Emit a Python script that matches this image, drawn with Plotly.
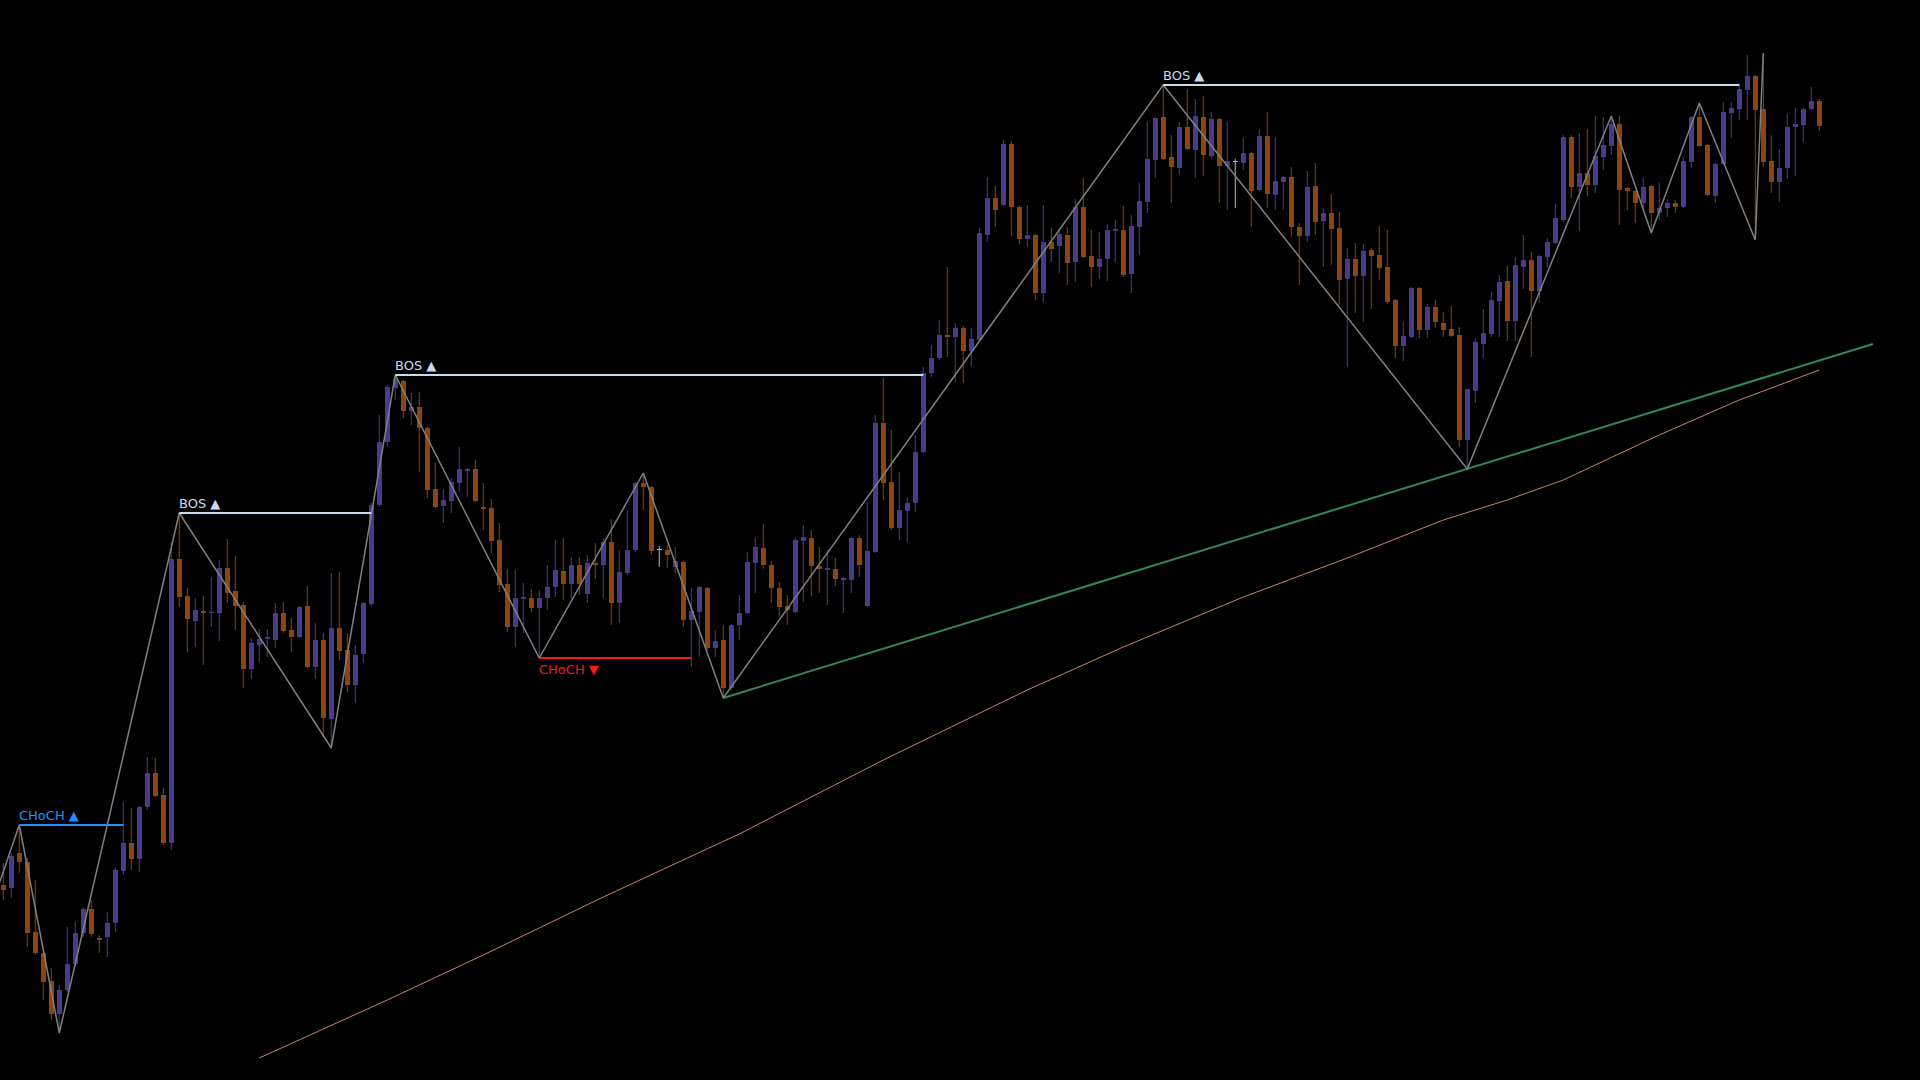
import plotly.graph_objects as go

# candle data, oldest first (price in chart points)
open_ = [
    195, 192, 227, 218, 148, 127, 99, 66, 90, 116,
    147, 171, 142, 143, 157, 209, 237, 221, 273, 307,
    285, 237, 521, 484, 459, 469, 467, 467, 512, 489,
    475, 411, 435, 441, 440, 467, 450, 443, 474, 413,
    440, 361, 452, 430, 395, 426, 476, 575, 638, 692,
    699, 669, 673, 652, 591, 574, 579, 597, 609, 611,
    573, 572, 540, 496, 453, 481, 482, 472, 482, 493,
    509, 496, 515, 486, 517, 515, 538, 477, 507, 530,
    597, 593, 530, 530, 513, 518, 460, 468, 492, 432,
    440, 392, 455, 467, 517, 532, 515, 492, 474, 468,
    539, 542, 514, 510, 511, 500, 500, 542, 474, 528,
    657, 598, 552, 569, 577, 628, 707, 722, 745, 743,
    752, 729, 740, 845, 882, 875, 936, 873, 841, 845,
    787, 838, 834, 845, 818, 873, 824, 813, 821, 849,
    850, 806, 853, 878, 920, 963, 923, 912, 953, 930,
    963, 924, 961, 914, 918, 917, 927, 890, 944, 885,
    898, 903, 853, 844, 894, 859, 867, 852, 801, 821,
    804, 830, 825, 813, 780, 734, 743, 792, 750, 773,
    757, 751, 745, 640, 689, 736, 746, 779, 799, 759,
    813, 820, 789, 823, 837, 860, 943, 893, 907, 895,
    923, 934, 956, 892, 889, 877, 894, 867, 872, 877,
    873, 918, 963, 935, 884, 916, 967, 971, 990, 1004,
    971, 919, 898, 912, 953, 955, 971, 979,
]
high = [
    217, 227, 255, 222, 200, 128, 112, 95, 153, 158,
    173, 180, 145, 168, 212, 278, 272, 274, 323, 322,
    292, 538, 567, 492, 482, 484, 503, 520, 541, 524,
    478, 442, 451, 451, 477, 478, 462, 474, 494, 457,
    447, 507, 508, 447, 435, 478, 577, 665, 695, 705,
    700, 687, 688, 653, 617, 591, 602, 633, 612, 620,
    597, 581, 557, 511, 510, 497, 491, 490, 515, 540,
    542, 523, 523, 525, 537, 542, 561, 530, 570, 598,
    607, 594, 534, 535, 533, 519, 492, 494, 493, 450,
    455, 456, 485, 528, 542, 556, 519, 498, 485, 543,
    555, 550, 533, 530, 522, 503, 543, 545, 578, 665,
    702, 650, 608, 583, 645, 713, 735, 760, 813, 757,
    754, 752, 852, 903, 894, 940, 939, 875, 875, 846,
    875, 852, 852, 853, 881, 902, 850, 848, 856, 860,
    874, 865, 897, 958, 963, 995, 945, 958, 991, 981,
    984, 968, 962, 958, 921, 942, 928, 951, 968, 943,
    904, 913, 857, 909, 917, 872, 886, 868, 832, 837,
    836, 832, 854, 850, 781, 759, 793, 793, 776, 780,
    768, 774, 753, 691, 741, 771, 788, 805, 814, 823,
    845, 828, 825, 842, 876, 945, 945, 947, 951, 964,
    963, 964, 964, 893, 890, 902, 895, 898, 881, 880,
    923, 964, 977, 936, 917, 978, 978, 997, 1025, 1005,
    1026, 945, 931, 966, 972, 972, 993, 981,
]
low = [
    180, 182, 207, 133, 125, 80, 60, 47, 88, 113,
    143, 143, 127, 123, 148, 205, 210, 208, 270, 283,
    235, 230, 473, 428, 433, 415, 453, 439, 477, 450,
    392, 401, 418, 423, 432, 447, 428, 442, 412, 401,
    343, 332, 420, 388, 377, 417, 474, 573, 633, 680,
    662, 655, 608, 582, 572, 557, 567, 588, 583, 578,
    550, 527, 488, 448, 433, 447, 468, 422, 470, 483,
    480, 482, 485, 477, 501, 482, 455, 457, 505, 528,
    570, 525, 513, 512, 507, 453, 413, 423, 430, 423,
    382, 390, 440, 466, 487, 511, 477, 463, 455, 467,
    478, 484, 487, 475, 494, 467, 487, 503, 473, 527,
    580, 550, 540, 538, 568, 627, 703, 720, 723, 698,
    697, 714, 739, 838, 853, 874, 844, 836, 833, 780,
    778, 818, 807, 795, 798, 822, 793, 801, 799, 818,
    803, 787, 825, 867, 902, 920, 877, 905, 930, 902,
    904, 921, 877, 870, 872, 910, 853, 889, 872, 870,
    870, 843, 795, 838, 845, 813, 815, 775, 713, 767,
    758, 771, 800, 776, 722, 719, 742, 742, 742, 752,
    743, 743, 633, 611, 677, 722, 743, 743, 739, 739,
    791, 723, 777, 813, 836, 858, 882, 849, 884, 887,
    910, 925, 855, 870, 857, 872, 847, 860, 863, 867,
    872, 912, 933, 884, 877, 915, 942, 960, 960, 840,
    913, 887, 878, 901, 904, 938, 970, 949,
]
close = [
    190, 224, 218, 147, 127, 98, 66, 90, 116, 147,
    171, 146, 140, 157, 210, 237, 221, 273, 307, 284,
    237, 521, 483, 461, 470, 467, 468, 512, 487, 474,
    411, 437, 441, 443, 467, 449, 443, 473, 413, 440,
    362, 452, 429, 395, 425, 477, 575, 638, 693, 701,
    669, 673, 652, 590, 573, 580, 598, 611, 611, 579,
    571, 539, 495, 453, 482, 483, 472, 482, 493, 510,
    496, 515, 496, 517, 515, 538, 477, 508, 530, 597,
    593, 529, 530, 525, 519, 460, 469, 493, 432, 439,
    392, 455, 467, 518, 533, 515, 492, 473, 470, 540,
    543, 514, 511, 512, 501, 502, 542, 515, 529, 657,
    597, 552, 570, 577, 628, 707, 722, 745, 743, 752,
    729, 741, 847, 882, 870, 936, 873, 841, 845, 787,
    838, 831, 846, 817, 873, 823, 813, 821, 850, 851,
    805, 854, 879, 921, 962, 921, 913, 953, 931, 964,
    925, 961, 914, 919, 918, 927, 889, 944, 886, 899,
    903, 853, 844, 893, 858, 867, 851, 800, 821, 804,
    829, 824, 812, 778, 734, 744, 792, 750, 773, 758,
    750, 744, 640, 691, 738, 747, 780, 798, 759, 815,
    820, 789, 824, 838, 862, 943, 893, 907, 895, 924,
    935, 956, 890, 889, 877, 893, 867, 872, 877, 873,
    919, 963, 934, 885, 916, 968, 972, 991, 1004, 970,
    918, 898, 912, 953, 956, 971, 979, 954,
]

# swing zigzag (bar index, price)
zz_bar = [-1, 2, 7, 22, 41, 49, 67, 80, 90, 145, 183, 201, 206, 212, 219, 220]
zz_price = [185, 255, 47, 567, 332, 705, 422, 607, 382, 995, 611, 964, 847, 977, 840, 1027]

# structure breaks: label, from bar, to bar, level
brk_label = ["CHoCH ▲", "BOS ▲", "BOS ▲", "CHoCH ▼", "BOS ▲"]
brk_from = [2, 22, 49, 67, 145]
brk_to = [15, 46, 115, 86, 217]
brk_level = [255, 567, 705, 422, 995]
brk_kind = ["choch_up", "bos", "bos", "choch_dn", "bos"]

# trend line through the two swing lows
trend_bar = [90, 233.7]
trend_price = [382, 736]

# slow moving average
ma_bar = [32, 48, 60, 75, 92, 110, 128, 140, 155, 168, 180, 188, 195, 207, 217, 227]
ma_price = [22, 80, 125, 183, 246, 320, 390, 433, 483, 522, 560, 580, 600, 645, 680, 710]

BULL = "#483D8B"
BEAR = "#8B4513"
DOJI = "#B4B4B4"
ZIGZAG = "#808080"
TREND = "#2E8B57"
MA = "#C8826E"
BRK_COLORS = {"bos": "#C8DCF0", "choch_up": "#1E90FF", "choch_dn": "#F51A1A"}

n = len(open_)
assert len(high) == n and len(low) == n and len(close) == n, (n, len(high), len(low), len(close))

fig = go.Figure()


def add_candles(bars, color):
    base = [min(open_[i], close[i]) for i in bars]
    body = [max(abs(close[i] - open_[i]), 1) for i in bars]
    wx, wy = [], []
    for i in bars:
        wx += [i, i, None]
        wy += [low[i], high[i], None]
    fig.add_trace(go.Scatter(x=wx, y=wy, mode="lines", line=dict(color=color, width=1),
                             hoverinfo="skip"))
    fig.add_trace(go.Bar(x=bars, y=body, base=base, width=0.62,
                         marker=dict(color=color, line=dict(width=0)), hoverinfo="skip"))


add_candles([i for i in range(n) if close[i] > open_[i]], BULL)
add_candles([i for i in range(n) if close[i] < open_[i]], BEAR)
add_candles([i for i in range(n) if close[i] == open_[i]], DOJI)

fig.add_trace(go.Scatter(x=ma_bar, y=ma_price, mode="lines",
                         line=dict(color=MA, width=1), hoverinfo="skip"))
fig.add_trace(go.Scatter(x=trend_bar, y=trend_price, mode="lines",
                         line=dict(color=TREND, width=2), hoverinfo="skip"))
fig.add_trace(go.Scatter(x=zz_bar, y=zz_price, mode="lines",
                         line=dict(color=ZIGZAG, width=1.5), hoverinfo="skip"))

for label, x0, x1, lvl, kind in zip(brk_label, brk_from, brk_to, brk_level, brk_kind):
    col = BRK_COLORS[kind]
    fig.add_trace(go.Scatter(x=[x0, x1], y=[lvl, lvl], mode="lines",
                             line=dict(color=col, width=2), hoverinfo="skip"))
    below = kind == "choch_dn"
    fig.add_annotation(
        x=x0, y=lvl, xref="x", yref="y", text=label, showarrow=False,
        xanchor="left", yanchor="top" if below else "bottom",
        xshift=-2, yshift=-2 if below else 0,
        font=dict(family="DejaVu Sans", size=13, color=col),
    )

fig.update_layout(
    width=1920, height=1080,
    margin=dict(l=0, r=0, t=0, b=0),
    paper_bgcolor="black", plot_bgcolor="black",
    showlegend=False, barmode="overlay", bargap=0,
    xaxis=dict(visible=False, range=[-0.41, 239.59]),
    yaxis=dict(visible=False, range=[0, 1080]),
)

fig.write_html(
    "out.html",
    config={"displayModeBar": False},
    post_script="document.body.style.margin='0';document.body.style.background='black';",
)
